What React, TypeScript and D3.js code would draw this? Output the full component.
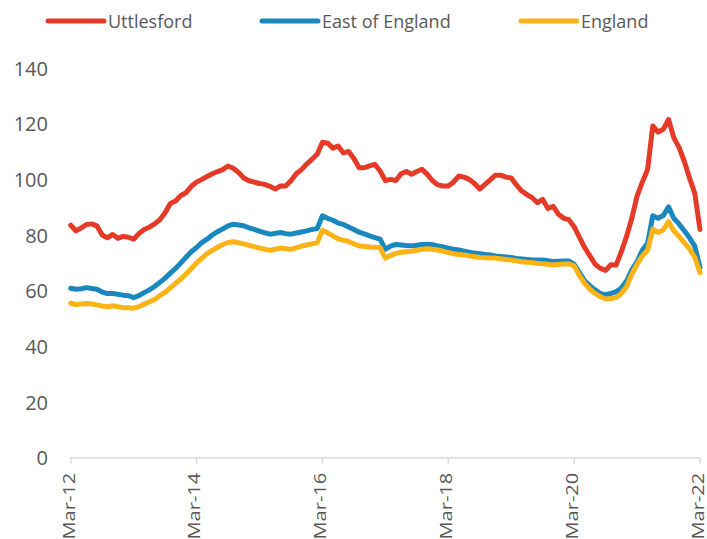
import React from "react";
import * as d3 from "d3";

const seriesNames = ["Uttlesford", "East of England", "England"];
const seriesColors = ["#E53A27", "#1A87BF", "#FBB316"];

const xTickLabels = ["Mar-12", "Mar-14", "Mar-16", "Mar-18", "Mar-20", "Mar-22"];
const xTickIndex = [0, 24, 48, 72, 96, 120];
const yTicks = [0, 20, 40, 60, 80, 100, 120, 140];

// Monthly values, Mar-12 (index 0) to Mar-22 (index 120)
const uttlesford = [
  83.5, 81.5, 82.5, 83.8, 84, 83.3, 80, 79, 80.2, 78.8,
  79.5, 79.2, 78.5, 80.5, 82, 82.8, 84, 85.5, 88, 91.3,
  92.2, 94.2, 95.2, 97.5, 99, 100, 101, 102, 102.8, 103.5,
  104.8, 104, 102.5, 100.5, 99.5, 99, 98.5, 98.2, 97.5, 96.5,
  97.6, 97.6, 99.5, 102, 103.5, 105.5, 107.2, 109, 113.3, 113,
  111.2, 112, 109.5, 110, 107.5, 104.2, 104.2, 104.8, 105.4, 103,
  99.6, 100, 99.6, 102, 102.8, 101.8, 102.8, 103.6, 101.8, 99.5,
  98, 97.6, 97.6, 99, 101.2, 100.8, 100, 98.5, 96.5, 98.2,
  99.8, 101.5, 101.5, 100.8, 100.5, 98, 95.8, 94.5, 93.4, 91.6,
  92.8, 89.5, 90.3, 87.5, 86, 85.5, 83, 79.2, 75.5, 72.5,
  69.5, 68, 67.3, 69.3, 69.2, 74, 79.5, 86, 94, 99,
  103.5, 119.2, 117, 118, 121.5, 115, 111.5, 106.5, 100.5, 95,
  82,
];

const eastOfEngland = [
  60.9, 60.5, 60.7, 61.1, 60.8, 60.5, 59.5, 59, 59, 58.7,
  58.4, 58.2, 57.5, 58.2, 59.3, 60.3, 61.5, 63, 64.5, 66.3,
  68, 70, 72, 74, 75.5, 77.3, 78.5, 80, 81.2, 82.2,
  83.3, 83.9, 83.6, 83.3, 82.6, 82, 81.4, 80.8, 80.3, 80.6,
  80.9, 80.5, 80.3, 80.7, 81.1, 81.5, 82, 82.3, 86.9, 86,
  85.3, 84.3, 83.8, 82.9, 82, 81, 80.4, 79.7, 79.1, 78.5,
  74.9, 76, 76.6, 76.4, 76.2, 76.1, 76.3, 76.6, 76.7, 76.5,
  76.1, 75.7, 75.3, 74.9, 74.6, 74.2, 73.8, 73.5, 73.3, 73,
  72.8, 72.5, 72.3, 72.1, 71.9, 71.6, 71.4, 71.2, 71, 71,
  71, 70.8, 70.5, 70.6, 70.7, 70.7, 69.5, 66.5, 63.5, 61.8,
  60.3, 59, 58.5, 59, 59.6, 61, 63.5, 67.5, 70.5, 74.5,
  77, 86.9, 86, 87, 90.1, 86, 84, 81.5, 79, 76,
  68.3,
];

const england = [
  55.5, 55, 55.2, 55.4, 55.2, 54.9, 54.5, 54.2, 54.6, 54.2,
  53.9, 53.9, 53.7, 54.3, 55.1, 56, 56.8, 58.2, 59.4, 61,
  62.6, 64.2, 66, 68, 70, 71.7, 73.3, 74.5, 75.6, 76.6,
  77.3, 77.6, 77.2, 76.8, 76.3, 75.8, 75.3, 74.9, 74.5, 74.9,
  75.3, 75.1, 74.9, 75.4, 76, 76.4, 76.8, 77.2, 81.7, 80.8,
  79.7, 78.6, 78.1, 77.7, 76.8, 76.1, 75.9, 75.7, 75.6, 75.5,
  71.7, 72.6, 73.4, 73.8, 74, 74.2, 74.5, 74.9, 75.1, 74.9,
  74.6, 74.2, 73.7, 73.3, 73, 72.8, 72.5, 72.2, 71.9, 71.8,
  71.7, 71.7, 71.5, 71.2, 71, 70.7, 70.4, 70.2, 70.1, 69.8,
  69.7, 69.5, 69.2, 69.4, 69.6, 69.7, 68.9, 65.5, 62.6, 60.5,
  59, 57.8, 57, 57.2, 57.5, 59, 61.5, 66, 69.5, 72.5,
  74.5, 82.1, 80.9, 81.8, 84.8, 81.5, 79.5, 77.3, 75, 72,
  66.5,
];

const allSeries = [uttlesford, eastOfEngland, england];

const W = 707;
const H = 539;
const left = 70.7;
const right = 700;
const top = 68;
const bottom = 457.7;
const textColor = "#595959";
const font = "'Open Sans', sans-serif";

export default function App() {
  const x = d3.scaleLinear().domain([0, 120]).range([left, right]);
  const y = d3.scaleLinear().domain([0, 140]).range([bottom, top]);
  const line = d3
    .line<number>()
    .x((_, i) => x(i))
    .y((d) => y(d));

  const legendX = [48, 262, 521];

  return (
    <svg
      width={W}
      height={H}
      style={{ position: "absolute", left: 0, top: 0, background: "#fff" }}
      fontFamily={font}
    >
      {/* legend */}
      {seriesNames.map((name, k) => (
        <g key={name}>
          <line
            x1={legendX[k]}
            x2={legendX[k] + 56}
            y1={21}
            y2={21}
            stroke={seriesColors[k]}
            strokeWidth={5}
            strokeLinecap="round"
          />
          <text
            x={legendX[k] + 60}
            y={21}
            dominantBaseline="central"
            fontSize={18}
            fill={textColor}
          >
            {name}
          </text>
        </g>
      ))}

      {/* y tick labels */}
      {yTicks.map((t) => (
        <text
          key={t}
          x={48}
          y={y(t)}
          textAnchor="end"
          dominantBaseline="central"
          fontSize={20}
          fill={textColor}
        >
          {t}
        </text>
      ))}

      {/* x axis */}
      <line x1={left} x2={right} y1={bottom} y2={bottom} stroke="#d9d9d9" strokeWidth={1.5} />
      {xTickIndex.map((idx, k) => (
        <g key={idx}>
          <line
            x1={x(idx)}
            x2={x(idx)}
            y1={bottom}
            y2={bottom + 6}
            stroke="#d9d9d9"
            strokeWidth={1.5}
          />
          <text
            transform={`translate(${x(idx) - 3},${bottom + 15}) rotate(-90) scale(1.18,1)`}
            textAnchor="end"
            dominantBaseline="central"
            fontSize={17}
            fill={textColor}
          >
            {xTickLabels[k]}
          </text>
        </g>
      ))}

      {/* lines */}
      {allSeries.map((s, k) => (
        <path
          key={seriesNames[k]}
          d={line(s) || ""}
          fill="none"
          stroke={seriesColors[k]}
          strokeWidth={5}
          strokeLinejoin="round"
          strokeLinecap="round"
        />
      ))}
    </svg>
  );
}
